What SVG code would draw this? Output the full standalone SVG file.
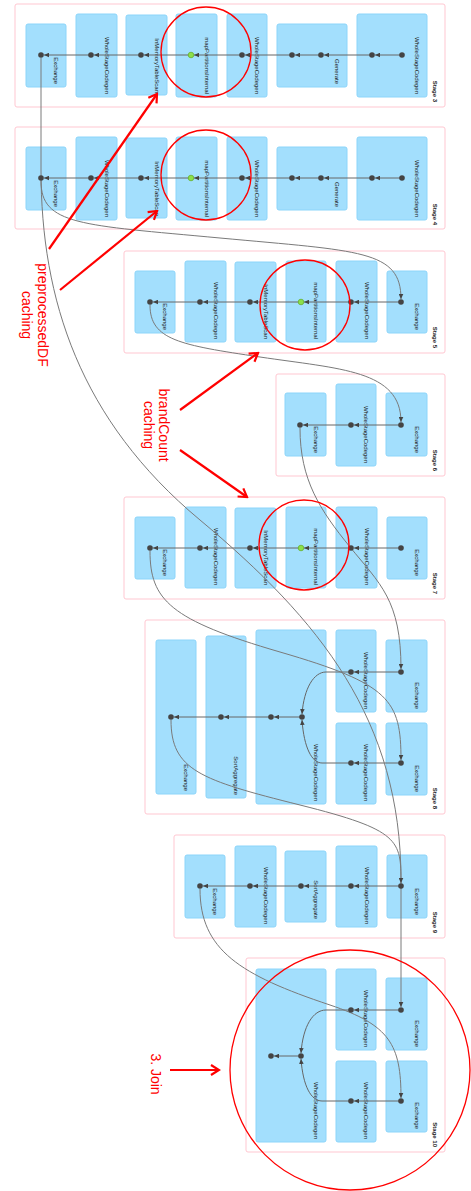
<svg xmlns="http://www.w3.org/2000/svg" width="471" height="1191" viewBox="0 0 471 1191">
<style>
.stage{fill:#fff;stroke:#FFC7D1;stroke-width:1}
.cl{fill:#A3DFFD;stroke:#8CD5FA;stroke-width:1}
.lbl{font-family:"Liberation Sans",Arial,sans-serif;font-size:6px;fill:#222;text-anchor:end}
.slbl{font-family:"Liberation Sans",Arial,sans-serif;font-size:6px;font-weight:bold;fill:#222;text-anchor:end}
.dot{fill:#444}
.cached{fill:#8CE04A;stroke:#66B030;stroke-width:0.8}
.e{stroke:#666;stroke-width:1;fill:none;marker-end:url(#ah)}
.x{stroke:#7a7a7a;stroke-width:1;fill:none;marker-end:url(#ah)}
.rc{stroke:#f00;fill:none;stroke-width:1.3}
.ra{stroke:#f00;stroke-width:2.2;fill:none;marker-end:url(#rah)}
.rt{font-family:"Liberation Sans",Arial,sans-serif;font-size:14px;fill:#f00;text-anchor:middle}
</style>
<defs>
<marker id="ah" viewBox="0 0 5 5" refX="5" refY="2.5" markerWidth="5" markerHeight="5" markerUnits="userSpaceOnUse" orient="auto"><path d="M0,0.2 L5,2.5 L0,4.8 z" fill="#444"/></marker>
<marker id="rah" viewBox="-2 -2 12 14" refX="8" refY="5" markerWidth="12" markerHeight="14" markerUnits="userSpaceOnUse" orient="auto"><path d="M0,0 L8,5 L0,10" fill="none" stroke="#f00" stroke-width="2.2"/></marker>
</defs>

<g id="stages">
<g id="stage3"><rect class="stage" x="15" y="4" width="430" height="103" rx="2"/><text class="slbl" transform="translate(433,102) rotate(90)">Stage 3</text></g>
<g id="stage4"><rect class="stage" x="15" y="127" width="430" height="102" rx="2"/><text class="slbl" transform="translate(433,225) rotate(90)">Stage 4</text></g>
<g id="stage5"><rect class="stage" x="124" y="251" width="321" height="102" rx="2"/><text class="slbl" transform="translate(433,348) rotate(90)">Stage 5</text></g>
<g id="stage6"><rect class="stage" x="276" y="374" width="169" height="102" rx="2"/><text class="slbl" transform="translate(433,471) rotate(90)">Stage 6</text></g>
<g id="stage7"><rect class="stage" x="124" y="497" width="321" height="102" rx="2"/><text class="slbl" transform="translate(433,594) rotate(90)">Stage 7</text></g>
<g id="stage8"><rect class="stage" x="145" y="620" width="300" height="194" rx="2"/><text class="slbl" transform="translate(433,809) rotate(90)">Stage 8</text></g>
<g id="stage9"><rect class="stage" x="174" y="835" width="271" height="103" rx="2"/><text class="slbl" transform="translate(433,933) rotate(90)">Stage 9</text></g>
<g id="stage10"><rect class="stage" x="246" y="958" width="199" height="194" rx="2"/><text class="slbl" transform="translate(433,1147) rotate(90)">Stage 10</text></g>
</g>

<g id="clusters">
<!-- stage 3 -->
<g id="s3-exchange"><rect class="cl" x="26" y="24" width="40" height="63" rx="2"/><text class="lbl" transform="translate(54,84) rotate(90)">Exchange</text></g>
<g id="s3-wscg1"><rect class="cl" x="76" y="14" width="41" height="83" rx="2"/><text class="lbl" transform="translate(105,94) rotate(90)">WholeStageCodegen</text></g>
<g id="s3-imts"><rect class="cl" x="126" y="15" width="41" height="80" rx="2"/><text class="lbl" transform="translate(155,93) rotate(90)">InMemoryTableScan</text></g>
<g id="s3-mpi"><rect class="cl" x="176" y="14" width="41" height="83" rx="2"/><text class="lbl" transform="translate(205,94) rotate(90)">mapPartitionsInternal</text></g>
<g id="s3-wscg2"><rect class="cl" x="227" y="14" width="40" height="83" rx="2"/><text class="lbl" transform="translate(255,94) rotate(90)">WholeStageCodegen</text></g>
<g id="s3-generate"><rect class="cl" x="277" y="24" width="70" height="63" rx="2"/><text class="lbl" transform="translate(335,84) rotate(90)">Generate</text></g>
<g id="s3-wscg3"><rect class="cl" x="357" y="14" width="70" height="83" rx="2"/><text class="lbl" transform="translate(415,94) rotate(90)">WholeStageCodegen</text></g>
<!-- stage 4 -->
<g id="s4-exchange"><rect class="cl" x="26" y="147" width="40" height="63" rx="2"/><text class="lbl" transform="translate(54,207) rotate(90)">Exchange</text></g>
<g id="s4-wscg1"><rect class="cl" x="76" y="137" width="41" height="83" rx="2"/><text class="lbl" transform="translate(105,217) rotate(90)">WholeStageCodegen</text></g>
<g id="s4-imts"><rect class="cl" x="126" y="138" width="41" height="80" rx="2"/><text class="lbl" transform="translate(155,216) rotate(90)">InMemoryTableScan</text></g>
<g id="s4-mpi"><rect class="cl" x="176" y="137" width="41" height="83" rx="2"/><text class="lbl" transform="translate(205,217) rotate(90)">mapPartitionsInternal</text></g>
<g id="s4-wscg2"><rect class="cl" x="227" y="137" width="40" height="83" rx="2"/><text class="lbl" transform="translate(255,217) rotate(90)">WholeStageCodegen</text></g>
<g id="s4-generate"><rect class="cl" x="277" y="147" width="70" height="63" rx="2"/><text class="lbl" transform="translate(335,207) rotate(90)">Generate</text></g>
<g id="s4-wscg3"><rect class="cl" x="357" y="137" width="70" height="83" rx="2"/><text class="lbl" transform="translate(415,217) rotate(90)">WholeStageCodegen</text></g>
<!-- stage 5 -->
<g id="s5-exchange1"><rect class="cl" x="135" y="271" width="40" height="62" rx="2"/><text class="lbl" transform="translate(163,330) rotate(90)">Exchange</text></g>
<g id="s5-wscg1"><rect class="cl" x="185" y="261" width="41" height="81" rx="2"/><text class="lbl" transform="translate(214,339) rotate(90)">WholeStageCodegen</text></g>
<g id="s5-imts"><rect class="cl" x="235" y="262" width="41" height="80" rx="2"/><text class="lbl" transform="translate(264,339) rotate(90)">InMemoryTableScan</text></g>
<g id="s5-mpi"><rect class="cl" x="286" y="261" width="40" height="81" rx="2"/><text class="lbl" transform="translate(314,339) rotate(90)">mapPartitionsInternal</text></g>
<g id="s5-wscg2"><rect class="cl" x="336" y="261" width="41" height="81" rx="2"/><text class="lbl" transform="translate(365,339) rotate(90)">WholeStageCodegen</text></g>
<g id="s5-exchange2"><rect class="cl" x="387" y="271" width="40" height="62" rx="2"/><text class="lbl" transform="translate(415,330) rotate(90)">Exchange</text></g>
<!-- stage 6 -->
<g id="s6-exchange1"><rect class="cl" x="285" y="393" width="41" height="63" rx="2"/><text class="lbl" transform="translate(314,453) rotate(90)">Exchange</text></g>
<g id="s6-wscg"><rect class="cl" x="336" y="384" width="40" height="82" rx="2"/><text class="lbl" transform="translate(364,463) rotate(90)">WholeStageCodegen</text></g>
<g id="s6-exchange2"><rect class="cl" x="386" y="393" width="41" height="63" rx="2"/><text class="lbl" transform="translate(415,453) rotate(90)">Exchange</text></g>
<!-- stage 7 -->
<g id="s7-exchange1"><rect class="cl" x="135" y="517" width="40" height="62" rx="2"/><text class="lbl" transform="translate(163,576) rotate(90)">Exchange</text></g>
<g id="s7-wscg1"><rect class="cl" x="185" y="507" width="41" height="81" rx="2"/><text class="lbl" transform="translate(214,585) rotate(90)">WholeStageCodegen</text></g>
<g id="s7-imts"><rect class="cl" x="235" y="508" width="41" height="80" rx="2"/><text class="lbl" transform="translate(264,585) rotate(90)">InMemoryTableScan</text></g>
<g id="s7-mpi"><rect class="cl" x="286" y="507" width="40" height="81" rx="2"/><text class="lbl" transform="translate(314,585) rotate(90)">mapPartitionsInternal</text></g>
<g id="s7-wscg2"><rect class="cl" x="336" y="507" width="41" height="81" rx="2"/><text class="lbl" transform="translate(365,585) rotate(90)">WholeStageCodegen</text></g>
<g id="s7-exchange2"><rect class="cl" x="387" y="517" width="40" height="62" rx="2"/><text class="lbl" transform="translate(415,576) rotate(90)">Exchange</text></g>
<!-- stage 8 -->
<g id="s8-exchange"><rect class="cl" x="156" y="640" width="40" height="154" rx="2"/><text class="lbl" transform="translate(184,791) rotate(90)">Exchange</text></g>
<g id="s8-sortagg"><rect class="cl" x="206" y="636" width="40" height="162" rx="2"/><text class="lbl" transform="translate(234,795) rotate(90)">SortAggregate</text></g>
<g id="s8-wscg-join"><rect class="cl" x="256" y="630" width="70" height="174" rx="2"/><text class="lbl" transform="translate(314,801) rotate(90)">WholeStageCodegen</text></g>
<g id="s8-wscg-top"><rect class="cl" x="336" y="630" width="40" height="82" rx="2"/><text class="lbl" transform="translate(364,709) rotate(90)">WholeStageCodegen</text></g>
<g id="s8-wscg-bottom"><rect class="cl" x="336" y="723" width="40" height="81" rx="2"/><text class="lbl" transform="translate(364,801) rotate(90)">WholeStageCodegen</text></g>
<g id="s8-exchange-top"><rect class="cl" x="386" y="640" width="41" height="72" rx="2"/><text class="lbl" transform="translate(415,709) rotate(90)">Exchange</text></g>
<g id="s8-exchange-bottom"><rect class="cl" x="386" y="723" width="41" height="72" rx="2"/><text class="lbl" transform="translate(415,792) rotate(90)">Exchange</text></g>
<!-- stage 9 -->
<g id="s9-exchange1"><rect class="cl" x="185" y="855" width="40" height="63" rx="2"/><text class="lbl" transform="translate(213,915) rotate(90)">Exchange</text></g>
<g id="s9-wscg1"><rect class="cl" x="235" y="846" width="41" height="81" rx="2"/><text class="lbl" transform="translate(264,924) rotate(90)">WholeStageCodegen</text></g>
<g id="s9-sortagg"><rect class="cl" x="285" y="851" width="41" height="71" rx="2"/><text class="lbl" transform="translate(314,919) rotate(90)">SortAggregate</text></g>
<g id="s9-wscg2"><rect class="cl" x="336" y="846" width="41" height="81" rx="2"/><text class="lbl" transform="translate(365,924) rotate(90)">WholeStageCodegen</text></g>
<g id="s9-exchange2"><rect class="cl" x="387" y="855" width="40" height="63" rx="2"/><text class="lbl" transform="translate(415,915) rotate(90)">Exchange</text></g>
<!-- stage 10 -->
<g id="s10-wscg-join"><rect class="cl" x="256" y="969" width="70" height="173" rx="2"/><text class="lbl" transform="translate(314,1139) rotate(90)">WholeStageCodegen</text></g>
<g id="s10-wscg-top"><rect class="cl" x="336" y="969" width="40" height="81" rx="2"/><text class="lbl" transform="translate(364,1047) rotate(90)">WholeStageCodegen</text></g>
<g id="s10-wscg-bottom"><rect class="cl" x="336" y="1061" width="40" height="81" rx="2"/><text class="lbl" transform="translate(364,1139) rotate(90)">WholeStageCodegen</text></g>
<g id="s10-exchange-top"><rect class="cl" x="386" y="978" width="41" height="72" rx="2"/><text class="lbl" transform="translate(415,1047) rotate(90)">Exchange</text></g>
<g id="s10-exchange-bottom"><rect class="cl" x="386" y="1061" width="41" height="71" rx="2"/><text class="lbl" transform="translate(415,1129) rotate(90)">Exchange</text></g>
</g>

<g id="connectors">
<!-- within stages -->
<path class="e" d="M402,55H375"/><path class="e" d="M372,55H324"/><path class="e" d="M321,55H295"/><path class="e" d="M292,55H245"/><path class="e" d="M242,55H194"/><path class="e" d="M191,55H144"/><path class="e" d="M141,55H94"/><path class="e" d="M91,55H44"/>
<path class="e" d="M402,178H375"/><path class="e" d="M372,178H324"/><path class="e" d="M321,178H295"/><path class="e" d="M292,178H245"/><path class="e" d="M242,178H194"/><path class="e" d="M191,178H144"/><path class="e" d="M141,178H94"/><path class="e" d="M91,178H44"/>
<path class="e" d="M401,302H354"/><path class="e" d="M351,302H304"/><path class="e" d="M301,302H253"/><path class="e" d="M250,302H203"/><path class="e" d="M200,302H153"/>
<path class="e" d="M401,425H354"/><path class="e" d="M351,425H303"/>
<path class="e" d="M401,548H354"/><path class="e" d="M351,548H304"/><path class="e" d="M301,548H253"/><path class="e" d="M250,548H203"/><path class="e" d="M200,548H153"/>
<path class="e" d="M401,672H354"/><path class="e" d="M351,672H326C314,672 304,688 302,714"/><path class="e" d="M401,763H354"/><path class="e" d="M351,763H322C312,763 304,748 302,720"/><path class="e" d="M302,717H274"/><path class="e" d="M271,717H224"/><path class="e" d="M221,717H174"/>
<path class="e" d="M401,886H354"/><path class="e" d="M351,886H304"/><path class="e" d="M301,886H253"/><path class="e" d="M250,886H203"/>
<path class="e" d="M401,1010H354"/><path class="e" d="M351,1010H326C313,1010 303,1026 301,1053"/><path class="e" d="M401,1101H354"/><path class="e" d="M351,1101H322C311,1101 303,1086 301,1059"/><path class="e" d="M301,1056H274"/>
<!-- across stages -->
<path class="x" d="M41,58L41,170C41,300 80,420 200,520C320,620 401,720 401,880L401,1007"/>
<path class="x" d="M41,181C41,225 80,225 220,238C360,251 401,250 401,299"/>
<path class="x" d="M150,305C150,340 180,345 260,357C340,369 401,370 401,422"/>
<path class="x" d="M300,428C300,480 320,510 350,547C380,584 401,600 401,669"/>
<path class="x" d="M150,551C150,600 170,620 280,652C390,684 401,700 401,760"/>
<path class="x" d="M171,720C171,770 200,780 300,805C400,830 401,840 401,883"/>
<path class="x" d="M200,889C200,950 240,975 330,1005C390,1025 401,1045 401,1098"/>
</g>

<g id="nodes">
<g id="n3-1"><circle class="dot" cx="41" cy="55" r="2.8"/></g>
<g id="n3-2"><circle class="dot" cx="91" cy="55" r="2.8"/></g>
<g id="n3-3"><circle class="dot" cx="141" cy="55" r="2.8"/></g>
<g id="n3-4"><circle class="cached" cx="191" cy="55" r="2.8"/></g>
<g id="n3-5"><circle class="dot" cx="242" cy="55" r="2.8"/></g>
<g id="n3-6"><circle class="dot" cx="292" cy="55" r="2.8"/></g>
<g id="n3-7"><circle class="dot" cx="321" cy="55" r="2.8"/></g>
<g id="n3-8"><circle class="dot" cx="372" cy="55" r="2.8"/></g>
<g id="n3-9"><circle class="dot" cx="402" cy="55" r="2.8"/></g>
<g id="n4-1"><circle class="dot" cx="41" cy="178" r="2.8"/></g>
<g id="n4-2"><circle class="dot" cx="91" cy="178" r="2.8"/></g>
<g id="n4-3"><circle class="dot" cx="141" cy="178" r="2.8"/></g>
<g id="n4-4"><circle class="cached" cx="191" cy="178" r="2.8"/></g>
<g id="n4-5"><circle class="dot" cx="242" cy="178" r="2.8"/></g>
<g id="n4-6"><circle class="dot" cx="292" cy="178" r="2.8"/></g>
<g id="n4-7"><circle class="dot" cx="321" cy="178" r="2.8"/></g>
<g id="n4-8"><circle class="dot" cx="372" cy="178" r="2.8"/></g>
<g id="n4-9"><circle class="dot" cx="402" cy="178" r="2.8"/></g>
<g id="n5-1"><circle class="dot" cx="150" cy="302" r="2.8"/></g>
<g id="n5-2"><circle class="dot" cx="200" cy="302" r="2.8"/></g>
<g id="n5-3"><circle class="dot" cx="250" cy="302" r="2.8"/></g>
<g id="n5-4"><circle class="cached" cx="301" cy="302" r="2.8"/></g>
<g id="n5-5"><circle class="dot" cx="351" cy="302" r="2.8"/></g>
<g id="n5-6"><circle class="dot" cx="401" cy="302" r="2.8"/></g>
<g id="n6-1"><circle class="dot" cx="300" cy="425" r="2.8"/></g>
<g id="n6-2"><circle class="dot" cx="351" cy="425" r="2.8"/></g>
<g id="n6-3"><circle class="dot" cx="401" cy="425" r="2.8"/></g>
<g id="n7-1"><circle class="dot" cx="150" cy="548" r="2.8"/></g>
<g id="n7-2"><circle class="dot" cx="200" cy="548" r="2.8"/></g>
<g id="n7-3"><circle class="dot" cx="250" cy="548" r="2.8"/></g>
<g id="n7-4"><circle class="cached" cx="301" cy="548" r="2.8"/></g>
<g id="n7-5"><circle class="dot" cx="351" cy="548" r="2.8"/></g>
<g id="n7-6"><circle class="dot" cx="401" cy="548" r="2.8"/></g>
<g id="n8-1"><circle class="dot" cx="171" cy="717" r="2.8"/></g>
<g id="n8-2"><circle class="dot" cx="221" cy="717" r="2.8"/></g>
<g id="n8-3"><circle class="dot" cx="271" cy="717" r="2.8"/></g>
<g id="n8-4"><circle class="dot" cx="302" cy="717" r="2.8"/></g>
<g id="n8-5"><circle class="dot" cx="351" cy="672" r="2.8"/></g>
<g id="n8-6"><circle class="dot" cx="401" cy="672" r="2.8"/></g>
<g id="n8-7"><circle class="dot" cx="351" cy="763" r="2.8"/></g>
<g id="n8-8"><circle class="dot" cx="401" cy="763" r="2.8"/></g>
<g id="n9-1"><circle class="dot" cx="200" cy="886" r="2.8"/></g>
<g id="n9-2"><circle class="dot" cx="250" cy="886" r="2.8"/></g>
<g id="n9-3"><circle class="dot" cx="301" cy="886" r="2.8"/></g>
<g id="n9-4"><circle class="dot" cx="351" cy="886" r="2.8"/></g>
<g id="n9-5"><circle class="dot" cx="401" cy="886" r="2.8"/></g>
<g id="n10-1"><circle class="dot" cx="271" cy="1056" r="2.8"/></g>
<g id="n10-2"><circle class="dot" cx="301" cy="1056" r="2.8"/></g>
<g id="n10-3"><circle class="dot" cx="351" cy="1010" r="2.8"/></g>
<g id="n10-4"><circle class="dot" cx="401" cy="1010" r="2.8"/></g>
<g id="n10-5"><circle class="dot" cx="351" cy="1101" r="2.8"/></g>
<g id="n10-6"><circle class="dot" cx="401" cy="1101" r="2.8"/></g>
</g>

<g id="annotations">
<circle class="rc" cx="206" cy="52" r="45"/>
<circle class="rc" cx="206" cy="175" r="45"/>
<circle class="rc" cx="305" cy="305" r="45"/>
<circle class="rc" cx="304" cy="545" r="45"/>
<circle class="rc" cx="350" cy="1070" r="120"/>
<path class="ra" d="M49,249L157,94"/>
<path class="ra" d="M60,290L157,211"/>
<path class="ra" d="M180,410L258,353"/>
<path class="ra" d="M180,450L247,497"/>
<path class="ra" d="M170,1070L219,1070"/>
<text class="rt" transform="translate(38,315) rotate(90)">preprocessedDF</text>
<text class="rt" transform="translate(22,315) rotate(90)">caching</text>
<text class="rt" transform="translate(159,425) rotate(90)">brandCount</text>
<text class="rt" transform="translate(144,425) rotate(90)">caching</text>
<text class="rt" transform="translate(151,1074) rotate(90)">3. Join</text>
</g>
</svg>
